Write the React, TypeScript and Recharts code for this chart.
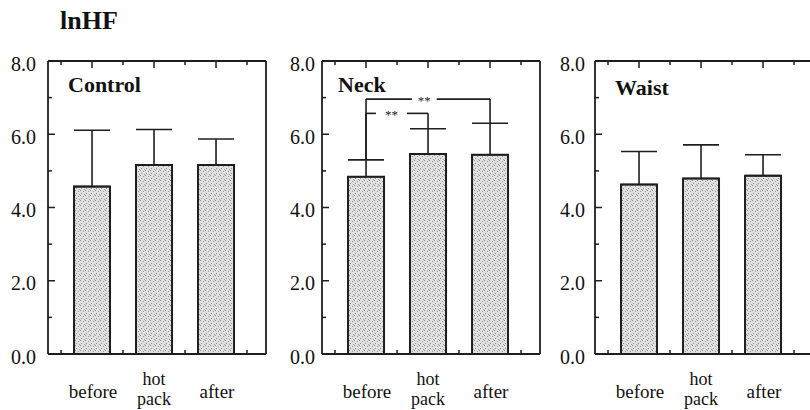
import React from 'react';
import { BarChart, Bar, XAxis, YAxis, ErrorBar, ReferenceLine, ReferenceDot } from 'recharts';

const categories = ['before', 'hot pack', 'after'];
const categoryPos = [1, 2, 3];
const controlMeans = [4.57, 5.16, 5.16];
const controlSD = [1.54, 0.97, 0.71];
const neckMeans = [4.84, 5.46, 5.44];
const neckSD = [0.46, 0.69, 0.86];
const waistMeans = [4.63, 4.79, 4.87];
const waistSD = [0.9, 0.92, 0.57];
const yTicks = [0, 1, 2, 3, 4, 5, 6, 7, 8];
const xTicks = [0.5, 1, 1.5, 2, 2.5, 3, 3.5];
const panelNames = ['Control', 'Neck', 'Waist'];
const titleText = 'lnHF';
const neckSig = [
  { from: 1, to: 3, y: 6.96, gap: [1.74, 2.14], label: '**' },
  { from: 1, to: 2, y: 6.57, gap: [1.16, 1.66], label: '**' },
];

const X_MIN = 0.29;
const X_MAX = 3.806;
const INK = '#1e1e1e';
const SERIF = '"Liberation Serif", "Times New Roman", serif';

const W = 274;
const H = 410;
// plot area: left 48, top 61, right W-8, bottom 354 (1px axes included)
const M = { top: 60, right: 7, bottom: 55, left: 47 };

function LeftTick(props: any) {
  const { x, y, payload, gap } = props;
  const v = payload.value;
  const major = v % 2 === 0;
  return (
    <g>
      <line x1={x} x2={x + (major ? 7 : 4)} y1={y} y2={y} stroke={INK} strokeWidth={1.5} />
      {major && (
        <text x={x - gap} y={y + 9.5} textAnchor="end" fontFamily={SERIF} fontSize={20} fill="#111">
          {v.toFixed(1)}
        </text>
      )}
    </g>
  );
}

function RightTick(props: any) {
  const { x, y, payload } = props;
  const major = payload.value % 2 === 0;
  return <line x1={x} x2={x - (major ? 7 : 4)} y1={y} y2={y} stroke={INK} strokeWidth={1.5} />;
}

function TopTick(props: any) {
  const { x, y, payload } = props;
  const major = Number.isInteger(payload.value);
  return <line x1={x} x2={x} y1={y} y2={y + (major ? 7 : 4)} stroke={INK} strokeWidth={1.5} />;
}

function BottomTick(props: any) {
  const { x, y, payload } = props;
  const v = payload.value;
  const i = categoryPos.indexOf(v);
  if (i < 0) {
    return <line x1={x} x2={x} y1={y} y2={y - 4} stroke={INK} strokeWidth={1.5} />;
  }
  const parts = categories[i].split(' ');
  if (parts.length === 1) {
    return (
      <text x={x + 1} y={y + 44} textAnchor="middle" fontFamily={SERIF} fontSize={19} fill="#111">
        {parts[0]}
      </text>
    );
  }
  return (
    <g>
      <text x={x} y={y + 31} textAnchor="middle" fontFamily={SERIF} fontSize={18} fill="#111">
        {parts[0]}
      </text>
      <text x={x} y={y + 51} textAnchor="middle" fontFamily={SERIF} fontSize={18} fill="#111">
        {parts[1]}
      </text>
    </g>
  );
}

function Panel(props: any) {
  const { idx, means, sds, labelGap, labelDx, labelY, sig } = props;
  const data = categories.map((c, i) => ({ cat: c, x: categoryPos[i], mean: means[i], err: [0, sds[i]] }));
  const pid = 'stip' + idx;
  const line = { stroke: INK, strokeWidth: 1.6 };
  return (
    <BarChart width={W} height={H} data={data} margin={M}>
      <defs>
        <pattern id={pid} width={5} height={5} patternUnits="userSpaceOnUse">
          <rect width={5} height={5} fill="#e0e0e0" />
          <rect x={0} y={0} width={1} height={1} fill="#8c8c8c" />
          <rect x={3} y={1} width={1} height={1} fill="#9a9a9a" />
          <rect x={1} y={3} width={1} height={1} fill="#909090" />
          <rect x={4} y={4} width={1} height={1} fill="#a0a0a0" />
        </pattern>
      </defs>
      <XAxis
        dataKey="x"
        type="number"
        domain={[X_MIN, X_MAX]}
        allowDataOverflow
        ticks={xTicks}
        interval={0}
        height={1}
        tickSize={0}
        tickMargin={0}
        tickLine={false}
        axisLine={{ stroke: INK, strokeWidth: 1.8 }}
        tick={(p: any) => <BottomTick {...p} />}
      />
      <XAxis
        xAxisId="ft"
        dataKey="x"
        type="number"
        orientation="top"
        domain={[X_MIN, X_MAX]}
        allowDataOverflow
        ticks={xTicks}
        interval={0}
        height={1}
        tickSize={0}
        tickMargin={0}
        tickLine={false}
        axisLine={{ stroke: INK, strokeWidth: 1.8 }}
        tick={(p: any) => <TopTick {...p} />}
      />
      <YAxis
        domain={[0, 8]}
        ticks={yTicks}
        width={1}
        tickSize={0}
        tickMargin={0}
        tickLine={false}
        interval={0}
        axisLine={{ stroke: INK, strokeWidth: 1.8 }}
        tick={(p: any) => <LeftTick {...p} gap={labelGap} />}
      />
      <YAxis
        yAxisId="r"
        orientation="right"
        domain={[0, 8]}
        ticks={yTicks}
        width={1}
        tickSize={0}
        tickMargin={0}
        tickLine={false}
        interval={0}
        axisLine={{ stroke: INK, strokeWidth: 1.8 }}
        tick={(p: any) => <RightTick {...p} />}
      />
      <Bar dataKey="mean" barSize={36} fill={`url(#${pid})`} stroke={INK} strokeWidth={2} isAnimationActive={false}>
        <ErrorBar dataKey="err" width={18} stroke={INK} strokeWidth={1.6} direction="y" />
      </Bar>
      {sig &&
        sig.map((s: any, k: number) => {
          const fromTop = means[s.from - 1] + sds[s.from - 1];
          const toTop = means[s.to - 1] + sds[s.to - 1];
          return (
            <React.Fragment key={k}>
              <ReferenceLine ifOverflow="visible" segment={[{ x: s.from, y: s.y }, { x: s.gap[0], y: s.y }]} {...line} />
              <ReferenceLine ifOverflow="visible" segment={[{ x: s.gap[1], y: s.y }, { x: s.to, y: s.y }]} {...line} />
              <ReferenceLine ifOverflow="visible" segment={[{ x: s.from, y: s.y }, { x: s.from, y: fromTop }]} {...line} />
              <ReferenceLine ifOverflow="visible" segment={[{ x: s.to, y: s.y }, { x: s.to, y: toTop }]} {...line} />
              <ReferenceDot
                x={(s.gap[0] + s.gap[1]) / 2}
                y={s.y}
                r={1}
                ifOverflow="visible"
                shape={(p: any) => (
                  <text x={p.cx} y={p.cy + 6} textAnchor="middle" fontFamily={SERIF} fontSize={13} fill="#222" style={{ WebkitFontSmoothing: 'antialiased' }}>
                    {s.label}
                  </text>
                )}
              />
            </React.Fragment>
          );
        })}
      <text x={48 + labelDx} y={labelY} fontFamily={SERIF} fontWeight="bold" fontSize={22} fill="#111">
        {panelNames[idx]}
      </text>
      {idx === 0 && (
        <text x={60} y={29} fontFamily={SERIF} fontWeight="bold" fontSize={26} fill="#111">
          {titleText}
        </text>
      )}
    </BarChart>
  );
}

const panels = [
  { means: controlMeans, sds: controlSD, left: 0, labelGap: 12, labelDx: 20, labelY: 92 },
  { means: neckMeans, sds: neckSD, left: 274, labelGap: 7, labelDx: 16, labelY: 92, sig: neckSig },
  { means: waistMeans, sds: waistSD, left: 547, labelGap: 10, labelDx: 20, labelY: 95 },
];

export default function App() {
  return (
    <div style={{ position: 'absolute', left: 0, top: 0, width: 810, height: 410, overflow: 'hidden', background: '#fff' }}>
      {panels.map((p, i) => (
        <div key={i} style={{ position: 'absolute', left: p.left, top: 0 }}>
          <Panel idx={i} means={p.means} sds={p.sds} labelGap={p.labelGap} labelDx={p.labelDx} labelY={p.labelY} sig={p.sig} />
        </div>
      ))}
    </div>
  );
}
